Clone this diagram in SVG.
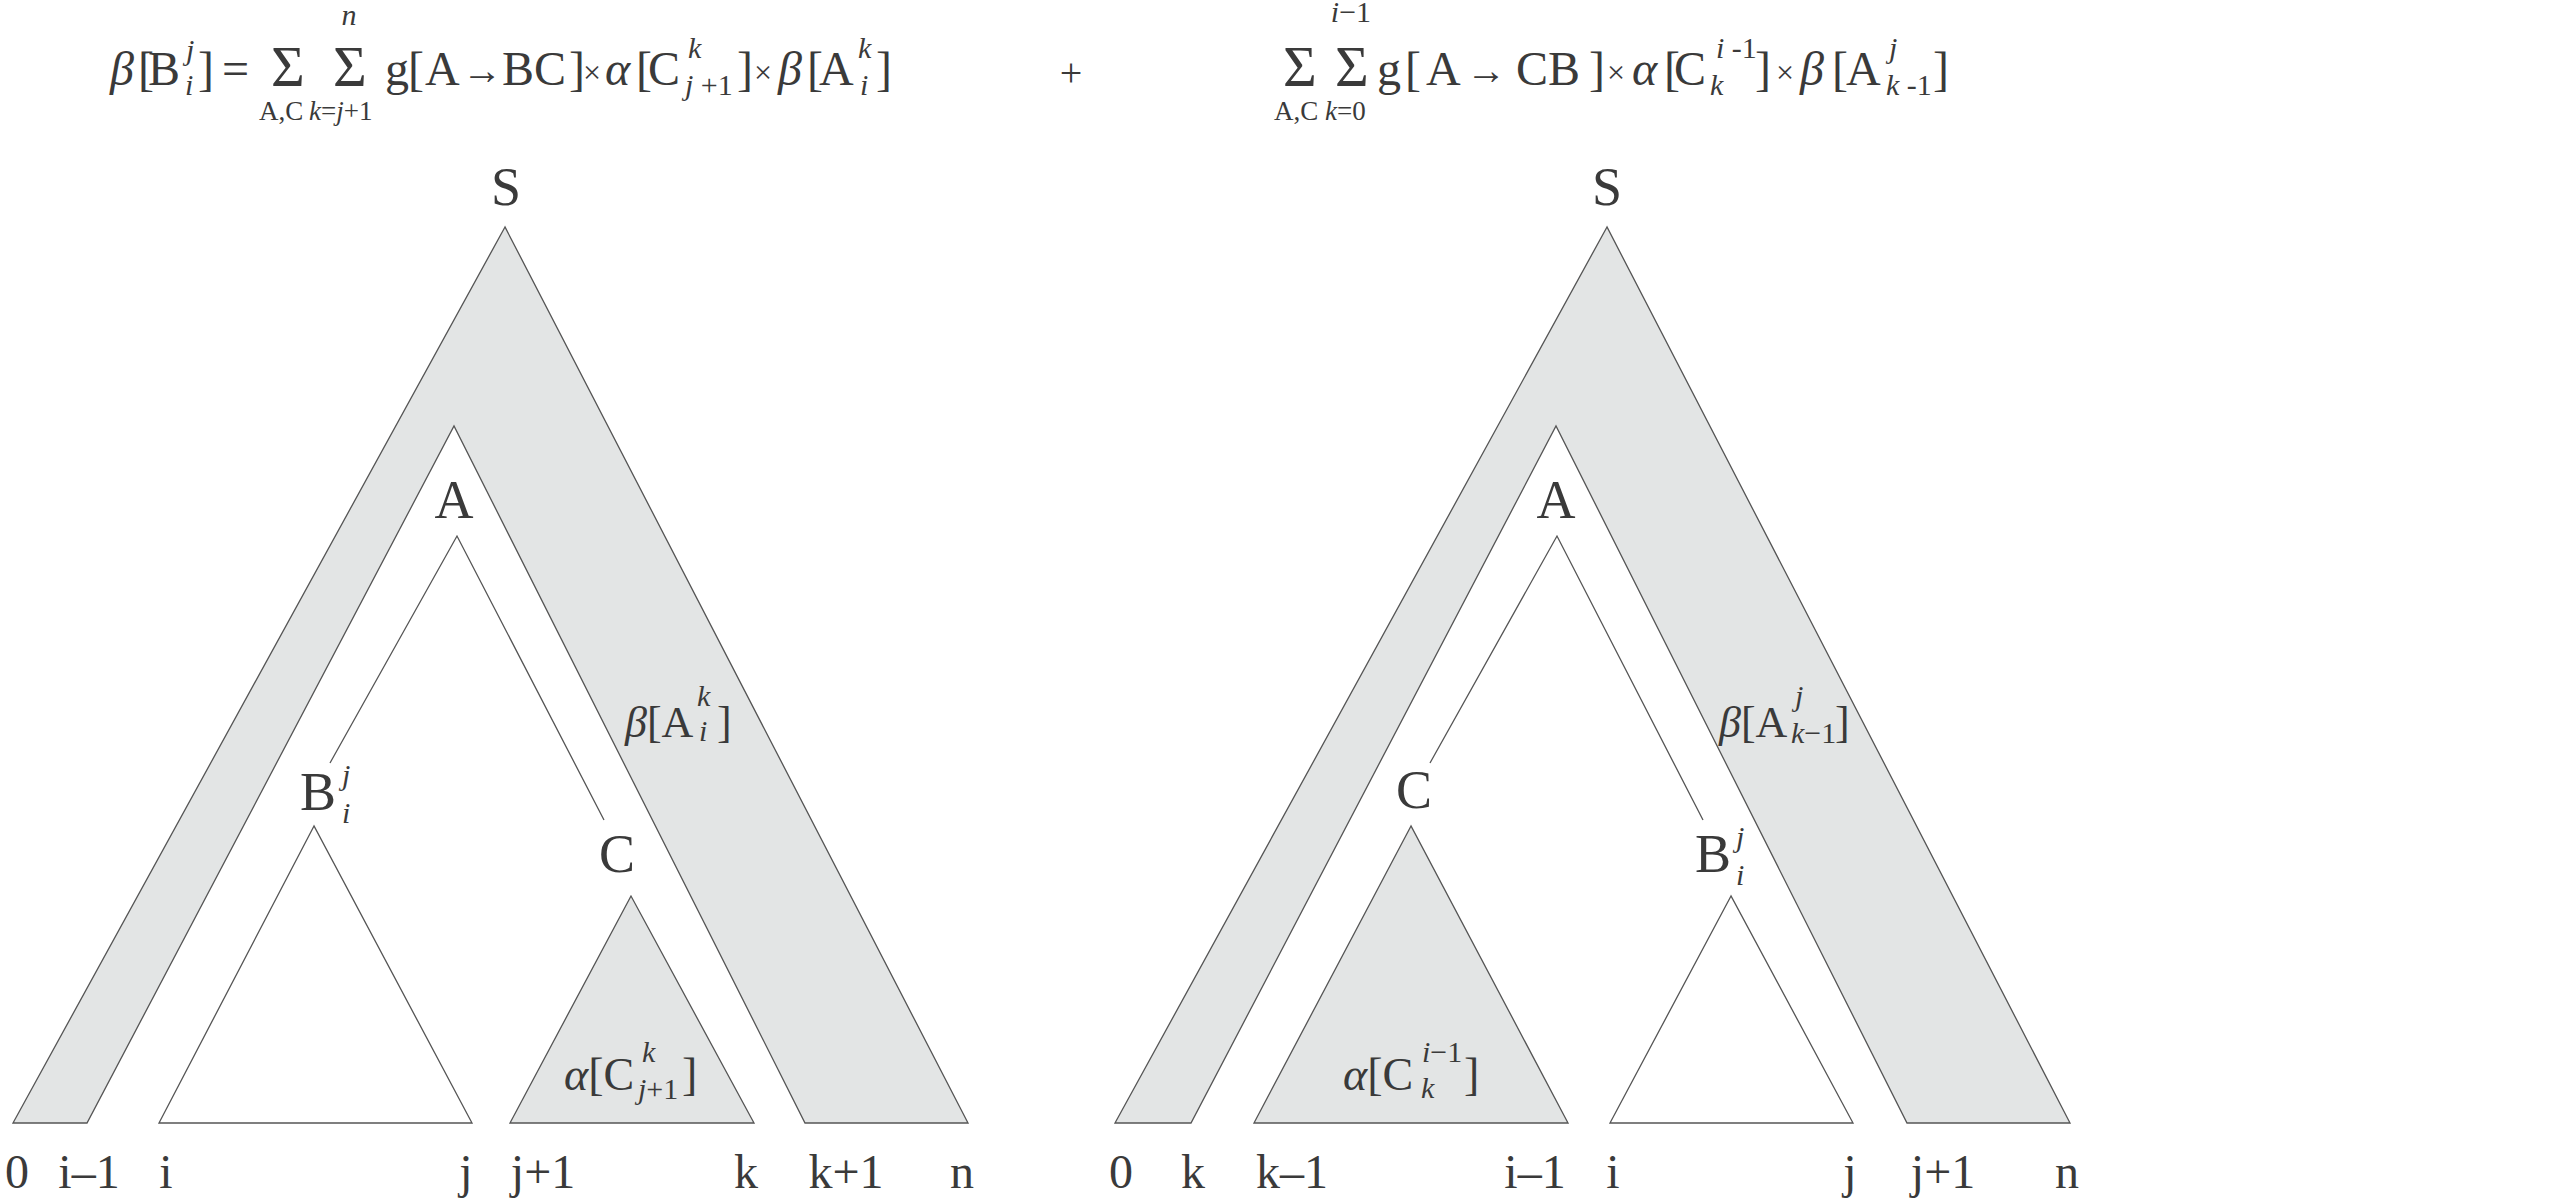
<svg xmlns="http://www.w3.org/2000/svg" width="2560" height="1202" viewBox="0 0 2560 1202">
<style>
text{font-family:"Liberation Serif","DejaVu Serif",serif;fill:#3a3a3a}
.f{font-size:48px}
.sg{font-size:58px}
.s{font-size:30px}
.lim{font-size:27px}
.t{font-size:54px}
.l{font-size:48px}
.g{font-size:44px}
.a{font-size:46px}
.op{font-size:32px}
.ar{font-size:40px}
.it{font-style:italic}
.gray{fill:#e3e5e5;stroke:#555;stroke-width:1.3}
.white{fill:#fff;stroke:#555;stroke-width:1.3}
.ln{fill:none;stroke:#555;stroke-width:1.3}
</style>
<rect width="2560" height="1202" fill="#fff"/>

<g id="formula-left">
<text class="f"><tspan class="it" x="110" y="85">β</tspan><tspan x="138" y="85">[</tspan><tspan x="148" y="85">B</tspan><tspan x="198" y="85">]</tspan><tspan x="222" y="85">=</tspan></text>
<text class="s it" x="186" y="60">j</text>
<text class="s it" x="185" y="95">i</text>
<text class="sg" x="288" y="86" text-anchor="middle">Σ</text>
<text class="sg" x="350" y="86" text-anchor="middle">Σ</text>
<text class="s it" x="349" y="25" text-anchor="middle">n</text>
<text class="lim" x="259" y="120">A,C</text>
<text class="lim" x="309" y="120"><tspan class="it">k</tspan>=<tspan class="it">j</tspan>+1</text>
<text class="f"><tspan x="385" y="85">g</tspan><tspan x="408" y="85">[</tspan><tspan x="425" y="85">A</tspan></text>
<text class="ar" x="462" y="84">→</text>
<text class="f"><tspan x="502" y="85">BC</tspan><tspan x="569" y="85">]</tspan></text>
<text class="op" x="583" y="83">×</text>
<text class="f"><tspan class="it" x="605" y="85">α</tspan><tspan x="636" y="85">[</tspan><tspan x="648" y="85">C</tspan><tspan x="737" y="85">]</tspan></text>
<text class="s it" x="688" y="58">k</text>
<text class="s" x="685" y="95"><tspan class="it">j</tspan> +1</text>
<text class="op" x="754" y="83">×</text>
<text class="f"><tspan class="it" x="778" y="85">β</tspan><tspan x="807" y="85">[</tspan><tspan x="819" y="85">A</tspan><tspan x="876" y="85">]</tspan></text>
<text class="s it" x="858" y="58">k</text>
<text class="s it" x="860" y="95">i</text>
<text style="font-size:40px" x="1071" y="86" text-anchor="middle">+</text>
</g>

<g id="formula-right">
<text class="sg" x="1300" y="86" text-anchor="middle">Σ</text>
<text class="sg" x="1352" y="86" text-anchor="middle">Σ</text>
<text class="s" x="1351" y="22" text-anchor="middle"><tspan class="it">i</tspan>−1</text>
<text class="lim" x="1274" y="120">A,C</text>
<text class="lim" x="1325" y="120"><tspan class="it">k</tspan>=0</text>
<text class="f"><tspan x="1377" y="85">g</tspan><tspan x="1405" y="85">[</tspan><tspan x="1426" y="85">A</tspan></text>
<text class="ar" x="1466" y="84">→</text>
<text class="f"><tspan x="1516" y="85">CB</tspan><tspan x="1589" y="85">]</tspan></text>
<text class="op" x="1607" y="83">×</text>
<text class="f"><tspan class="it" x="1632" y="85">α</tspan><tspan x="1664" y="85">[</tspan><tspan x="1674" y="85">C</tspan><tspan x="1755" y="85">]</tspan></text>
<text class="s" x="1716" y="58"><tspan class="it">i</tspan> -1</text>
<text class="s it" x="1710" y="95">k</text>
<text class="op" x="1776" y="83">×</text>
<text class="f"><tspan class="it" x="1800" y="85">β</tspan><tspan x="1832" y="85">[</tspan><tspan x="1846" y="85">A</tspan><tspan x="1933" y="85">]</tspan></text>
<text class="s it" x="1889" y="58">j</text>
<text class="s" x="1886" y="95"><tspan class="it">k</tspan> -1</text>
</g>

<g id="tree-left">
<g id="S-left"><polygon class="gray" points="505,227 13,1123 87,1123 454,426 805,1123 968,1123"/><text class="t" x="506" y="205" text-anchor="middle">S</text></g>
<g id="A-left"><polyline class="ln" points="330,763 457,536 604,820"/><text class="t" x="454" y="518" text-anchor="middle">A</text>
<text class="g" x="625" y="737"><tspan class="it">β</tspan>[A</text><text class="s it" x="697" y="706">k</text><text class="s it" x="699" y="741">i</text><text class="g" x="717" y="737">]</text></g>
<g id="B-left"><polygon class="white" points="314,826 159,1123 472,1123"/><text class="t" x="300" y="810">B</text><text class="s it" x="342" y="785">j</text><text class="s it" x="342" y="823">i</text></g>
<g id="C-left"><polygon class="gray" points="631,896 510,1123 754,1123"/><text class="t" x="617" y="872" text-anchor="middle">C</text>
<text class="a" x="564" y="1090"><tspan class="it">α</tspan>[C</text><text class="s it" x="642" y="1062">k</text><text class="s" x="638" y="1099"><tspan class="it">j</tspan>+1</text><text class="a" x="682" y="1090">]</text></g>
</g>

<g id="tree-right">
<g id="S-right"><polygon class="gray" points="1607,227 1115,1123 1191,1123 1556,426 1907,1123 2070,1123"/><text class="t" x="1607" y="205" text-anchor="middle">S</text></g>
<g id="A-right"><polyline class="ln" points="1430,763 1557,536 1703,820"/><text class="t" x="1556" y="518" text-anchor="middle">A</text>
<text class="g" x="1719" y="737"><tspan class="it">β</tspan>[A</text><text class="s it" x="1795" y="706">j</text><text class="s" x="1791" y="743"><tspan class="it">k</tspan>−1</text><text class="g" x="1835" y="737">]</text></g>
<g id="C-right"><polygon class="gray" points="1411,826 1254,1123 1568,1123"/><text class="t" x="1414" y="808" text-anchor="middle">C</text>
<text class="a" x="1343" y="1090"><tspan class="it">α</tspan>[C</text><text class="s" x="1422" y="1062"><tspan class="it">i</tspan>−1</text><text class="s it" x="1421" y="1098">k</text><text class="a" x="1464" y="1090">]</text></g>
<g id="B-right"><polygon class="white" points="1731,896 1610,1123 1853,1123"/><text class="t" x="1695" y="872">B</text><text class="s it" x="1736" y="847">j</text><text class="s it" x="1736" y="885">i</text></g>
</g>

<g id="axis-labels" text-anchor="middle">
<text class="l" x="17" y="1188">0</text>
<text class="l" x="89" y="1188">i–1</text>
<text class="l" x="166" y="1188">i</text>
<text class="l" x="466" y="1188">j</text>
<text class="l" x="543" y="1188">j+1</text>
<text class="l" x="746" y="1188">k</text>
<text class="l" x="846" y="1188">k+1</text>
<text class="l" x="962" y="1188">n</text>
<text class="l" x="1121" y="1188">0</text>
<text class="l" x="1193" y="1188">k</text>
<text class="l" x="1292" y="1188">k–1</text>
<text class="l" x="1535" y="1188">i–1</text>
<text class="l" x="1613" y="1188">i</text>
<text class="l" x="1850" y="1188">j</text>
<text class="l" x="1943" y="1188">j+1</text>
<text class="l" x="2067" y="1188">n</text>
</g>
<g id="connectors"/>
</svg>
